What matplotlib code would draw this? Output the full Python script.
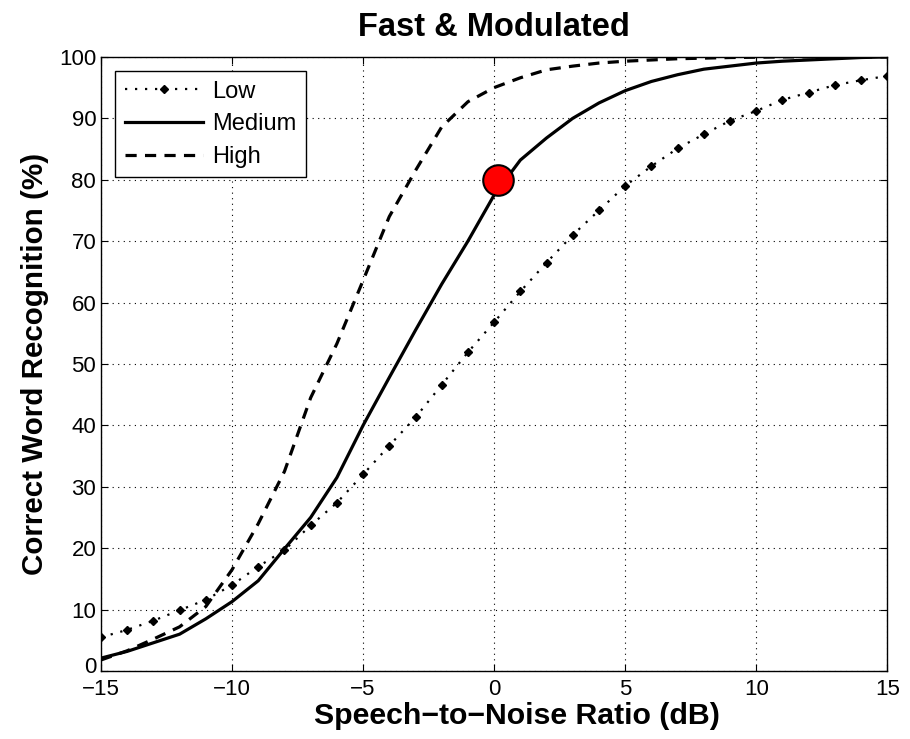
import numpy as np
import matplotlib
matplotlib.use("Agg")
import matplotlib.pyplot as plt
import matplotlib.transforms as mtransforms

plt.rcParams['font.family'] = ['Liberation Sans', 'DejaVu Sans']

# SNR values (dB)
snr = [-15, -14, -13, -12, -11, -10, -9, -8, -7, -6, -5, -4, -3, -2, -1,
       0, 1, 2, 3, 4, 5, 6, 7, 8, 9, 10, 11, 12, 13, 14, 15]

# word recognition (%)
low = [5.5, 6.7, 8.2, 9.9, 11.6, 14.0, 17.0, 19.7, 23.7, 27.4, 32.0, 36.7,
       41.3, 46.6, 51.9, 56.8, 61.8, 66.5, 71.0, 75.0, 79.0, 82.2, 85.1,
       87.4, 89.6, 91.2, 93.0, 94.2, 95.4, 96.2, 96.9]
medium = [2.1, 3.2, 4.6, 6.0, 8.5, 11.3, 14.7, 19.9, 25.0, 31.5, 40.0, 47.8,
          55.5, 63.0, 70.0, 77.5, 83.2, 86.8, 90.0, 92.5, 94.5, 96.0, 97.1,
          98.0, 98.5, 99.0, 99.3, 99.5, 99.7, 99.9, 100.0]
high = [1.8, 3.3, 5.2, 7.2, 10.5, 16.5, 24.0, 32.5, 44.5, 53.3, 63.6, 74.0,
        81.5, 88.6, 92.7, 95.0, 96.6, 97.9, 98.5, 99.0, 99.3, 99.5, 99.7,
        99.8, 99.9, 99.95, 100.0, 100.0, 100.0, 100.0, 100.0]

# highlighted point
pt_x = [0.15]
pt_y = [80]

fig = plt.figure(figsize=(9.1, 7.39), dpi=100)
ax = fig.add_axes([0.111, 0.092, 0.864, 0.831])

ax.plot(snr, low, color='black', linestyle=(0, (1, 3.5)), linewidth=1.6,
        marker='D', markersize=4.5, label='Low')
ax.plot(snr, medium, color='black', linestyle='-', linewidth=2.3, label='Medium')
ax.plot(snr, high, color='black', linestyle=(0, (3.5, 2.6)), linewidth=2.3, label='High')
ax.plot(pt_x, pt_y, 'o', color='red', markeredgecolor='black',
        markeredgewidth=1.5, markersize=22)

ax.set_xlim(-15, 15)
ax.set_ylim(0, 100)
ax.set_xticks(range(-15, 16, 5))
ax.set_yticks(range(0, 101, 10))
ax.set_xticklabels(['\u221215', '\u221210', '\u22125', '0', '5', '10', '15'])
ax.tick_params(direction='in', length=5, labelsize=16, top=True, right=True)
ax.tick_params(axis='x', pad=6)
ax.grid(True, color='black', linestyle=(0, (1, 4)), linewidth=0.8)
for s in ax.spines.values():
    s.set_linewidth(1.0)

# lift the "0" label a little so it does not sit on the "-15"
lab0 = ax.get_yticklabels()[0]
lab0.set_transform(lab0.get_transform() +
                   mtransforms.ScaledTranslation(0, 4 / 72, fig.dpi_scale_trans))

ax.set_title('Fast & Modulated', fontsize=23.5, fontweight='bold', pad=15)
ax.set_xlabel('Speech\u2212to\u2212Noise Ratio (dB)', fontsize=21.8, fontweight='bold', labelpad=0)
ax.xaxis.set_label_coords(0.529, -0.05)
ax.set_ylabel('Correct Word Recognition (%)', fontsize=21.3, fontweight='bold', labelpad=7)

leg = ax.legend(loc='upper left', fontsize=17, handlelength=3.3, handletextpad=0.4,
                fancybox=False, framealpha=1, borderaxespad=0.6,
                labelspacing=0.45, borderpad=0.4)
leg.get_frame().set_edgecolor('black')
leg.get_frame().set_linewidth(1.0)

fig.savefig('out.png', dpi=100)
